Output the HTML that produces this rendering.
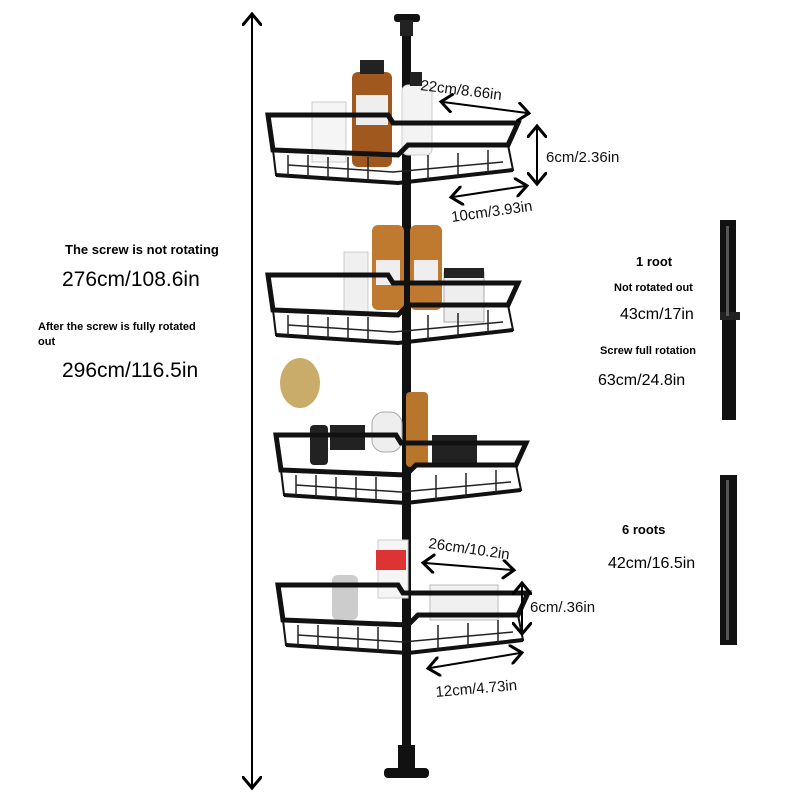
<!DOCTYPE html>
<html><head><meta charset="utf-8"><style>
html,body{margin:0;padding:0;background:#fff;}
svg{display:block;font-family:"Liberation Sans",sans-serif;}
</style></head><body>
<svg width="800" height="800" viewBox="0 0 800 800" xmlns="http://www.w3.org/2000/svg">
<defs>
<marker id="ah" markerWidth="10" markerHeight="10" refX="5" refY="5" orient="auto-start-reverse"><path d="M0,0 L6,5 L0,10" fill="none" stroke="#000" stroke-width="1.5"/></marker>
<g id="basket">
  <path d="M0,0 L120,0 L125,8 L250,8 L240,30 L140,30 L130,40 L5,35 Z" fill="none" stroke="#111" stroke-width="5"/>
  <path d="M5,35 L8,60 L130,68 L245,55 L240,30" fill="none" stroke="#111" stroke-width="2"/>
  <path d="M8,60 L130,68 L245,55" fill="none" stroke="#111" stroke-width="4"/>
  <g stroke="#222" stroke-width="1.5">
   <line x1="20" y1="40" x2="20" y2="60"/><line x1="40" y1="40" x2="40" y2="62"/><line x1="60" y1="42" x2="60" y2="63"/><line x1="80" y1="42" x2="80" y2="64"/><line x1="100" y1="42" x2="100" y2="66"/><line x1="160" y1="40" x2="160" y2="65"/><line x1="190" y1="38" x2="190" y2="62"/><line x1="220" y1="35" x2="220" y2="58"/>
  </g>
  <path d="M20,50 L125,57 L235,47" fill="none" stroke="#222" stroke-width="1.5"/>
</g>
</defs>
<!-- left height arrow -->
<line x1="252" y1="16" x2="252" y2="786" stroke="#000" stroke-width="2" marker-start="url(#ah)" marker-end="url(#ah)"/>
<!-- pole -->
<rect x="402" y="28" width="9" height="740" fill="#111"/>
<rect x="394" y="14" width="26" height="8" rx="3" fill="#111"/>
<rect x="400" y="20" width="13" height="16" fill="#222"/>
<rect x="398" y="745" width="17" height="25" fill="#111"/>
<rect x="384" y="768" width="45" height="10" rx="4" fill="#111"/>
<!-- products -->
<rect x="352" y="72" width="40" height="95" rx="6" fill="#a0581e"/><rect x="360" y="60" width="24" height="14" fill="#222"/><rect x="356" y="95" width="32" height="30" fill="#eee"/>
<rect x="402" y="85" width="30" height="70" rx="6" fill="#f3f3f3" stroke="#ccc"/><rect x="410" y="72" width="12" height="14" fill="#222"/>
<rect x="312" y="102" width="34" height="60" fill="#f5f5f5" stroke="#ccc"/>
<rect x="372" y="225" width="32" height="85" rx="6" fill="#c07a30"/><rect x="410" y="225" width="32" height="85" rx="6" fill="#c07a30"/>
<rect x="376" y="260" width="24" height="25" fill="#eee"/><rect x="414" y="260" width="24" height="25" fill="#eee"/>
<rect x="344" y="252" width="24" height="60" fill="#f0f0f0" stroke="#ccc"/>
<rect x="444" y="272" width="40" height="50" fill="#eee" stroke="#aaa"/><rect x="444" y="268" width="40" height="10" fill="#222"/>
<ellipse cx="300" cy="383" rx="20" ry="25" fill="#c9ab6a"/>
<rect x="406" y="392" width="22" height="75" rx="4" fill="#b8752c"/>
<rect x="432" y="435" width="45" height="30" fill="#222"/>
<rect x="330" y="425" width="35" height="25" fill="#222"/><rect x="372" y="412" width="30" height="40" rx="12" fill="#eee" stroke="#aaa"/>
<rect x="310" y="425" width="18" height="40" rx="4" fill="#222"/>
<rect x="378" y="540" width="30" height="58" fill="#f5f5f5" stroke="#ccc"/><rect x="376" y="550" width="30" height="20" fill="#d33"/>
<rect x="332" y="575" width="26" height="45" rx="6" fill="#ccc"/>
<rect x="430" y="585" width="68" height="35" fill="#f0f0f0" stroke="#bbb"/>
<!-- baskets -->
<use href="#basket" transform="translate(268,115)"/>
<use href="#basket" transform="translate(268,275)"/>
<use href="#basket" transform="translate(276,435)"/>
<use href="#basket" transform="translate(278,585)"/>
<!-- dimension arrows -->
<line x1="443" y1="102" x2="527" y2="113" stroke="#000" stroke-width="2" marker-start="url(#ah)" marker-end="url(#ah)"/>
<line x1="537" y1="128" x2="537" y2="182" stroke="#000" stroke-width="2" marker-start="url(#ah)" marker-end="url(#ah)"/>
<line x1="453" y1="197" x2="525" y2="186" stroke="#000" stroke-width="2" marker-start="url(#ah)" marker-end="url(#ah)"/>
<line x1="425" y1="563" x2="512" y2="570" stroke="#000" stroke-width="2" marker-start="url(#ah)" marker-end="url(#ah)"/>
<line x1="522" y1="585" x2="522" y2="632" stroke="#000" stroke-width="2" marker-start="url(#ah)" marker-end="url(#ah)"/>
<line x1="430" y1="668" x2="520" y2="653" stroke="#000" stroke-width="2" marker-start="url(#ah)" marker-end="url(#ah)"/>
<g font-size="15" fill="#111">
<text x="420" y="90" transform="rotate(7 420 90)">22cm/8.66in</text>
<text x="546" y="162">6cm/2.36in</text>
<text x="452" y="222" transform="rotate(-8 452 222)">10cm/3.93in</text>
<text x="428" y="548" transform="rotate(8 428 548)">26cm/10.2in</text>
<text x="530" y="612">6cm/.36in</text>
<text x="436" y="697" transform="rotate(-5 436 697)">12cm/4.73in</text>
</g>
<!-- left texts -->
<text x="65" y="254" font-size="13" font-weight="bold">The screw is not rotating</text>
<text x="62" y="286" font-size="21">276cm/108.6in</text>
<text x="38" y="330" font-size="11" font-weight="bold">After the screw is fully rotated</text>
<text x="38" y="345" font-size="11" font-weight="bold">out</text>
<text x="62" y="377" font-size="21">296cm/116.5in</text>
<!-- right texts -->
<text x="636" y="266" font-size="13" font-weight="bold">1 root</text>
<text x="614" y="291" font-size="11" font-weight="bold">Not rotated out</text>
<text x="620" y="319" font-size="16">43cm/17in</text>
<text x="600" y="354" font-size="11" font-weight="bold">Screw full rotation</text>
<text x="598" y="385" font-size="16">63cm/24.8in</text>
<text x="622" y="534" font-size="13" font-weight="bold">6 roots</text>
<text x="608" y="568" font-size="16">42cm/16.5in</text>
<!-- right poles -->
<rect x="720" y="220" width="16" height="98" fill="#111"/>
<rect x="722" y="318" width="14" height="102" fill="#111"/>
<rect x="720" y="312" width="20" height="8" fill="#222"/>
<rect x="726" y="226" width="3" height="90" fill="#555"/>
<rect x="720" y="475" width="17" height="170" fill="#111"/>
<rect x="726" y="480" width="3" height="160" fill="#555"/>
</svg>
</body></html>
